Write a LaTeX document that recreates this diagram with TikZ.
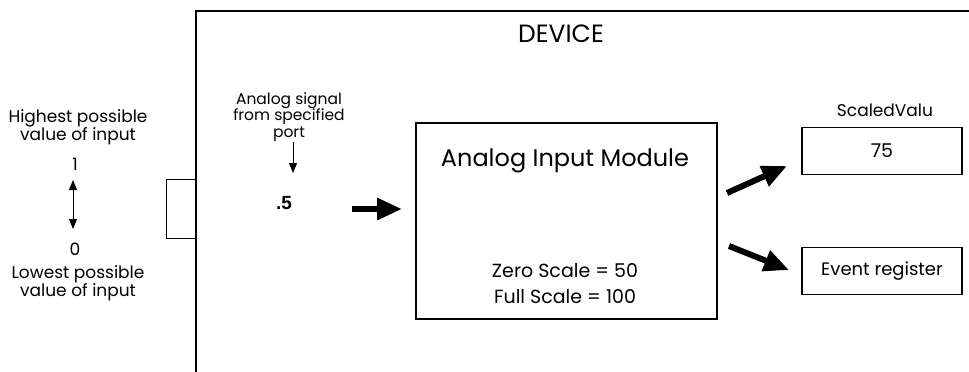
\documentclass[tikz,border=0pt]{standalone}
\usepackage{fontspec}
\setmainfont{Poppins}
\newfontfamily\helv{Liberation Sans}
\usetikzlibrary{positioning, arrows.meta}

\begin{document}
\begin{tikzpicture}[x=1pt,y=-1pt,
    txt/.style={font=\fontsize{17}{18}\selectfont,align=center,inner sep=0pt},
    box/.style={draw,line width=1.3pt,inner sep=0pt},
    big/.style={line width=6pt,-{Triangle[length=25pt,width=21pt]}},
    thin/.style={line width=1pt,-{Triangle[length=10pt,width=8pt]}}]
  \useasboundingbox (0,0) rectangle (969,372);
  % device outline
  \draw[line width=1.8pt] (196,372) |- (969,11);
  \node[txt,font=\fontsize{25}{28}\selectfont](dev) at (561,34){DEVICE};
  \node[box,minimum width=29pt,minimum height=59pt](port) at (181,209){};
  % input range
  \node[txt](hi) at (78,127){Highest possible\\value of input};
  \node[txt](one) at (75,164){1};
  \node[txt](zero) at (75,249){0};
  \node[txt](lo) at (78,283){Lowest possible\\value of input};
  \coordinate (top) at (73,180);
  \coordinate (bot) at (73,229);
  \draw[line width=1pt,{Triangle[length=10pt,width=8pt]}-{Triangle[length=10pt,width=8pt]}](top)--(bot);
  % signal
  \node[txt,font=\fontsize{15.5}{16.5}\selectfont](sig) at (289,117){Analog signal\\from specified\\port};
  \node[inner sep=0pt,font=\helv\bfseries\fontsize{19}{22}\selectfont](val) at (284,203){.5};
  \draw[thin](293,142)--(293,173);
  % module
  \node[box,line width=2pt,minimum width=301pt,minimum height=196pt](mod) at (566,221){};
  \node[txt,font=\fontsize{24}{28}\selectfont](title) at (565,161){Analog Input Module};
  \node[txt,font=\fontsize{19}{21}\selectfont](zs) at (565,271){Zero Scale = 50};
  \node[txt,font=\fontsize{19}{21}\selectfont](fs) at (565,297){Full Scale = 100};
  \coordinate (in1) at (352,209);
  \coordinate (in2) at (402,209);
  \draw[big](in1)--(in2);
  % outputs
  \node[txt](sname) at (885,110){ScaledValu};
  \node[box,minimum width=160pt,minimum height=47pt](sv) at (882,151){};
  \node[txt,font=\fontsize{19}{21}\selectfont] at (sv){75};
  \node[box,minimum width=160pt,minimum height=47pt](ev) at (882,271){};
  \node[txt,font=\fontsize{18}{20}\selectfont] at (ev){Event register};
  \coordinate (o1) at (727,193);
  \coordinate (o2) at (787,166);
  \coordinate (o3) at (729,246);
  \coordinate (o4) at (789,270);
  \draw[big](o1)--(o2);
  \draw[big](o3)--(o4);
\end{tikzpicture}
\end{document}
